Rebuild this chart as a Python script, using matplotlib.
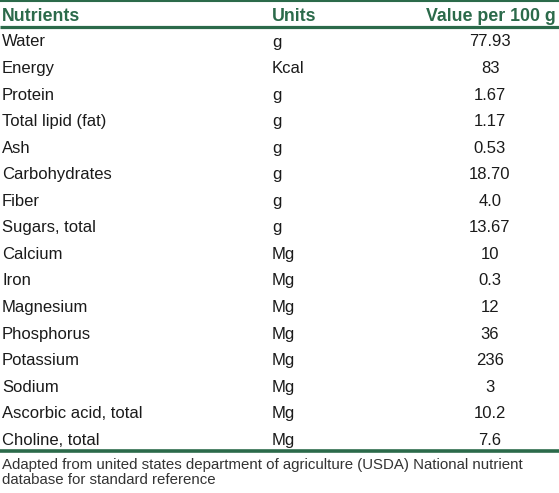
import matplotlib
matplotlib.use("Agg")
from matplotlib import pyplot as plt

nutrients = ["Water", "Energy", "Protein", "Total lipid (fat)", "Ash", "Carbohydrates",
             "Fiber", "Sugars, total", "Calcium", "Iron", "Magnesium", "Phosphorus",
             "Potassium", "Sodium", "Ascorbic acid, total", "Choline, total"]
units = ["g", "Kcal", "g", "g", "g", "g", "g", "g",
         "Mg", "Mg", "Mg", "Mg", "Mg", "Mg", "Mg", "Mg"]
values = ["77.93", "83", "1.67", "1.17", "0.53", "18.70", "4.0", "13.67",
          "10", "0.3", "12", "36", "236", "3", "10.2", "7.6"]
headers = ["Nutrients", "Units", "Value per 100 g"]
note = ["Adapted from united states department of agriculture (USDA) National nutrient",
        "database for standard reference"]

GREEN = "#2b6a4a"
W, H = 559, 493
plt.rcParams['font.family'] = ['Liberation Sans', 'DejaVu Sans']

fig = plt.figure(figsize=(W / 100, H / 100), dpi=100)
ax = fig.add_axes([0, 0, 1, 1])
ax.set_xlim(0, W)
ax.set_ylim(H, 0)
ax.axis('off')

fs = 12
# rules
ax.plot([0, W], [1, 1], color=GREEN, lw=1.5, solid_capstyle='butt')
ax.plot([0, W], [26.5, 26.5], color=GREEN, lw=2.3, solid_capstyle='butt')
ax.plot([0, W], [451, 451], color=GREEN, lw=2.6, solid_capstyle='butt')

# header
hfs = 12.8
ax.text(2, 21, headers[0], color=GREEN, fontsize=hfs, fontweight='bold', va='baseline', ha='left')
ax.text(272, 21, headers[1], color=GREEN, fontsize=hfs, fontweight='bold', va='baseline', ha='left')
ax.text(556, 21, headers[2], color=GREEN, fontsize=hfs, fontweight='bold', va='baseline', ha='right')

row_h = 26.55
for i, (n, u, v) in enumerate(zip(nutrients, units, values)):
    y = 46.5 + i * row_h
    ax.text(2, y, n, color="#1a1a1a", fontsize=fs, va='baseline', ha='left')
    ax.text(272, y, u, color="#1a1a1a", fontsize=fs, va='baseline', ha='left')
    ax.text(490, y, v, color="#1a1a1a", fontsize=fs, va='baseline', ha='center')

for j, line in enumerate(note):
    ax.text(2, 469 + j * 15, line, color="#333333", fontsize=10.8, va='baseline', ha='left')

fig.savefig("out.png", dpi=100)
